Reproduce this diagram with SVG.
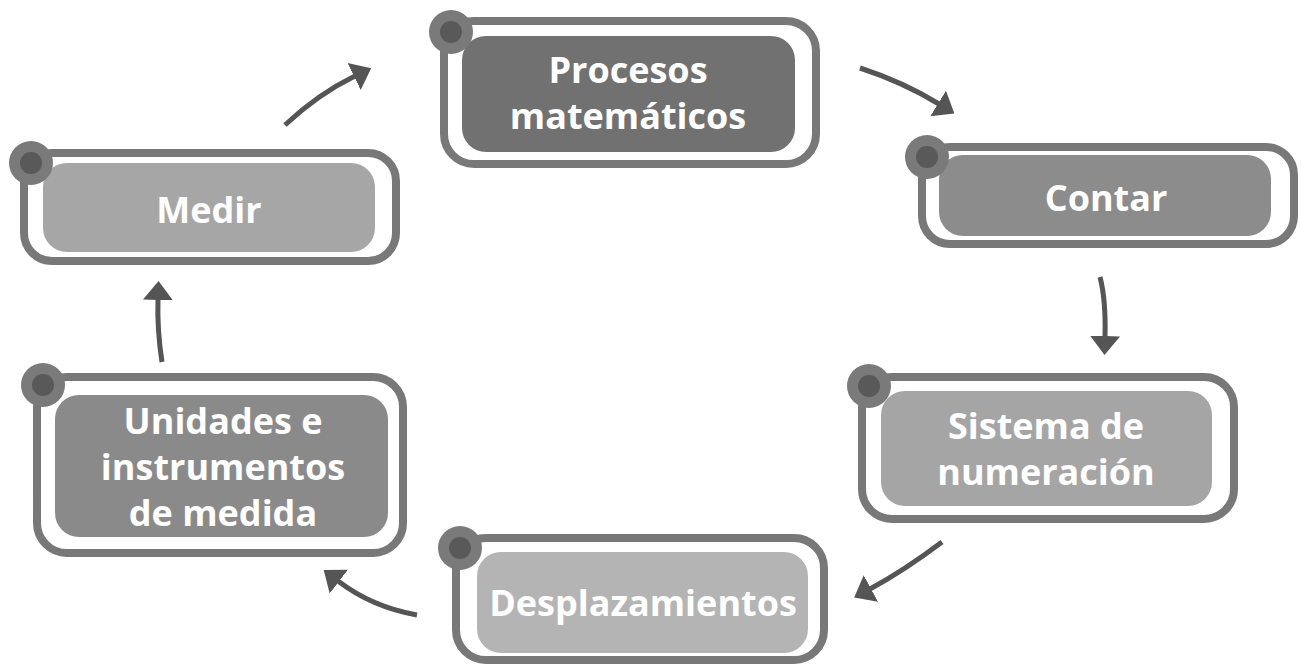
<svg xmlns="http://www.w3.org/2000/svg" width="1301" height="664" viewBox="0 0 1301 664">
<style>
.frame{fill:#fff;stroke:#787878;stroke-width:8}
.dot{fill:#7a7a7a}
.dotin{fill:#595959}
.lbl{font-family:"Open Sans",Lato,"Liberation Sans",sans-serif;font-weight:700;font-size:36px;fill:#fff;text-anchor:middle}
.arr{fill:none;stroke:#555;stroke-width:5}
</style>
<defs>
<marker id="ah" markerUnits="userSpaceOnUse" markerWidth="19" markerHeight="32" viewBox="0 0 19 32" refX="1" refY="16" orient="auto">
<path d="M0,1 L19,16 L0,31 z" fill="#555"/>
</marker>
</defs>
<rect width="1301" height="664" fill="#fff"/>
<g id="connectors">
<path class="arr" marker-end="url(#ah)" d="M285,125 Q318,94 355,76"/>
<path class="arr" marker-end="url(#ah)" d="M860,68 Q903,82 939,104"/>
<path class="arr" marker-end="url(#ah)" d="M1100,277 Q1106,300 1105,337"/>
<path class="arr" marker-end="url(#ah)" d="M942,542 Q905,570 870,589"/>
<path class="arr" marker-end="url(#ah)" d="M417,615 Q372,607 338,581"/>
<path class="arr" marker-end="url(#ah)" d="M162,362 Q157,330 158,299"/>
</g>
<g id="procesos">
<rect class="frame" x="444" y="21" width="372" height="143" rx="30"/>
<rect x="462" y="36" width="333" height="116" rx="24" fill="#717171"/>
<circle class="dot" cx="451" cy="32" r="22"/><circle class="dotin" cx="451" cy="32" r="11"/>
<text class="lbl" x="628" y="83">Procesos</text>
<text class="lbl" x="628" y="129">matemáticos</text>
</g>
<g id="contar">
<rect class="frame" x="922" y="147" width="372" height="97" rx="28"/>
<rect x="939" y="155" width="332" height="81" rx="24" fill="#8c8c8c"/>
<circle class="dot" cx="927" cy="157" r="22"/><circle class="dotin" cx="927" cy="157" r="11"/>
<text class="lbl" x="1106" y="211">Contar</text>
</g>
<g id="sistema">
<rect class="frame" x="862" y="377" width="372" height="142" rx="30"/>
<rect x="881" y="391" width="331" height="115" rx="24" fill="#a5a5a5"/>
<circle class="dot" cx="869" cy="386" r="22"/><circle class="dotin" cx="869" cy="386" r="11"/>
<text class="lbl" x="1046" y="439">Sistema de</text>
<text class="lbl" x="1046" y="485">numeración</text>
</g>
<g id="desplazamientos">
<rect class="frame" x="456" y="538" width="368" height="122" rx="30"/>
<rect x="477" y="552" width="331" height="101" rx="24" fill="#b4b4b4"/>
<circle class="dot" cx="460" cy="548" r="22"/><circle class="dotin" cx="460" cy="548" r="11"/>
<text class="lbl" x="643" y="616">Desplazamientos</text>
</g>
<g id="unidades">
<rect class="frame" x="37" y="377" width="366" height="176" rx="30"/>
<rect x="55" y="395" width="333" height="142" rx="24" fill="#8a8a8a"/>
<circle class="dot" cx="43" cy="385" r="22"/><circle class="dotin" cx="43" cy="385" r="11"/>
<text class="lbl" x="223" y="434">Unidades e</text>
<text class="lbl" x="223" y="480">instrumentos</text>
<text class="lbl" x="223" y="526">de medida</text>
</g>
<g id="medir">
<rect class="frame" x="24" y="153" width="372" height="108" rx="28"/>
<rect x="43" y="163" width="332" height="89" rx="24" fill="#a6a6a6"/>
<circle class="dot" cx="31" cy="163" r="22"/><circle class="dotin" cx="31" cy="163" r="11"/>
<text class="lbl" x="209" y="223">Medir</text>
</g>
</svg>
